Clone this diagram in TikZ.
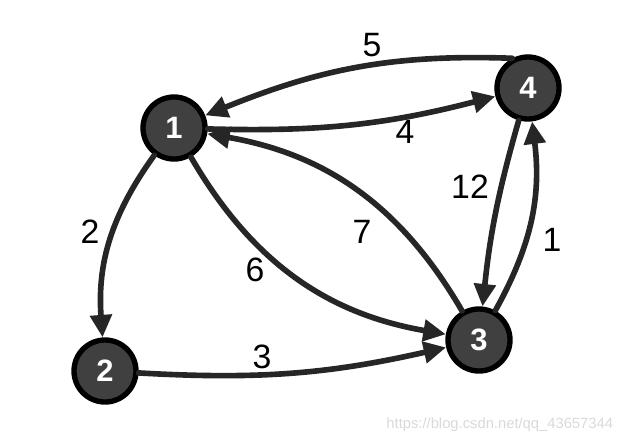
\documentclass[tikz,border=0pt]{standalone}
\usepackage{fontspec}
\setmainfont{Liberation Sans}
\usetikzlibrary{arrows.meta}

\begin{document}
\begin{tikzpicture}[x=0.025cm,y=0.025cm,line cap=round,line join=round,
  vertex/.style={circle,draw=black,fill=black!75,line width=3.8pt,minimum size=1.55cm,inner sep=0pt,text=white,font=\fontsize{22}{22}\selectfont\bfseries},
  wt/.style={font=\fontsize{24}{24}\selectfont,text=black},
  arc/.style={line width=4pt,draw=black!85,-{Triangle[length=16pt,width=15pt]}}]
\useasboundingbox (0,0) rectangle (628,443);
\node[vertex] (v1) at (174,315) {1};
\node[vertex] (v2) at (105,72) {2};
\node[vertex] (v3) at (479,103) {3};
\node[vertex] (v4) at (528,355) {4};
\draw[arc] (v1) to[bend right=8] (v4);
\draw[arc] (v4.118) to[out=178,in=22] (v1);
\draw[arc] (v1) to[bend right=20] (v2);
\draw[arc] (v1) to[bend right=25] (v3);
\draw[arc] (v3) to[bend right=25] (v1);
\draw[arc] (v2) to[bend right=8] (v3);
\draw[arc] (v4) to[bend right=5] (v3);
\draw[arc] (v3) to[bend right=18] (v4);
\node[wt] (w5) at (372,398) {5};
\node[wt] (w4) at (405,311) {4};
\node[wt] (w2) at (90,211) {2};
\node[wt] (w6) at (255,173) {6};
\node[wt] (w7) at (362,211) {7};
\node[wt] (w3) at (262,86) {3};
\node[wt] (w12) at (470,256) {12};
\node[wt] (w1) at (552,203) {1};
\node[anchor=east,text=black!15,font=\fontsize{10.5}{12}\selectfont] (wm) at (618,18) {https://blog.csdn.net/qq\_43657344};
\end{tikzpicture}
\end{document}
